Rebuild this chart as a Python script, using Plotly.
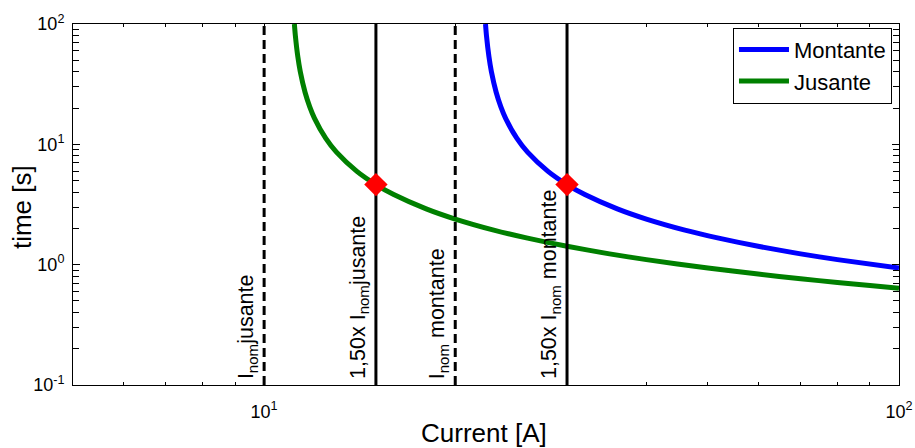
import numpy as np
import plotly.graph_objects as go

# Current [A] and trip time [s]
jusante_I = [11.16, 11.2, 11.3, 11.4, 11.6, 11.8, 12.0, 12.5, 13.0, 14.0, 15.0, 16.0, 18.0, 20.0,
             23.0, 26.0, 30.0, 35.0, 40.0, 50.0, 60.0, 70.0, 80.0, 90.0, 100.0]
jusante_t = [100.0, 79.9, 53.5, 40.3, 27.1, 20.5, 16.54, 11.25, 8.61, 5.96, 4.63, 3.83, 2.91, 2.394,
             1.938, 1.660, 1.421, 1.230, 1.101, 0.937, 0.835, 0.764, 0.711, 0.671, 0.638]

montante_I = [22.32, 22.4, 22.6, 22.8, 23.2, 23.6, 24.0, 25.0, 26.0, 28.0, 30.0, 32.0, 36.0, 40.0,
              46.0, 52.0, 60.0, 70.0, 80.0, 100.0]
montante_t = [100.0, 79.9, 53.5, 40.3, 27.1, 20.5, 16.54, 11.25, 8.61, 5.96, 4.63, 3.83, 2.91, 2.394,
              1.938, 1.660, 1.421, 1.230, 1.101, 0.937]

inom_jusante = 10
inom_montante = 20
pickup_factor = 1.5
pickup_time = [4.63, 4.63]

x_ticks = [10, 100]
x_ticktext = ["10<sup>1</sup>", "10<sup>2</sup>"]
y_ticks = [0.1, 1, 10, 100]
y_ticktext = ["10<sup>-1</sup>", "10<sup>0</sup>", "10<sup>1</sup>", "10<sup>2</sup>"]
x_minor = [6, 7, 8, 9, 20, 30, 40, 50, 60, 70, 80, 90]
y_minor = [0.2, 0.3, 0.4, 0.5, 0.6, 0.7, 0.8, 0.9, 2, 3, 4, 5, 6, 7, 8, 9, 20, 30, 40, 50, 60, 70, 80, 90]

y_span = [0.1, 100]

FONT = "Liberation Sans, Arial, sans-serif"

fig = go.Figure()

fig.add_trace(go.Scatter(x=montante_I, y=montante_t, mode="lines", name="Montante",
                         line=dict(color="#0000FF", width=5, shape="spline", smoothing=0.6)))
fig.add_trace(go.Scatter(x=jusante_I, y=jusante_t, mode="lines", name="Jusante",
                         line=dict(color="#008000", width=5, shape="spline", smoothing=0.6)))

# vertical reference lines
for val in [inom_jusante, inom_montante]:
    fig.add_trace(go.Scatter(x=[val, val], y=y_span, mode="lines", showlegend=False,
                             line=dict(color="black", width=3, dash="9px,5px"), hoverinfo="skip"))
for val in [inom_jusante * pickup_factor, inom_montante * pickup_factor]:
    fig.add_trace(go.Scatter(x=[val, val], y=y_span, mode="lines", showlegend=False,
                             line=dict(color="black", width=3), hoverinfo="skip"))

fig.add_trace(go.Scatter(x=[inom_jusante * pickup_factor, inom_montante * pickup_factor], y=pickup_time,
                         mode="markers", showlegend=False,
                         marker=dict(symbol="diamond", size=18, color="#FF0000", line=dict(width=0))))

labels = [
    (inom_jusante, "I<sub>nom</sub>jusante"),
    (inom_jusante * pickup_factor, "1,50x I<sub>nom</sub>jusante"),
    (inom_montante, "I<sub>nom</sub> montante"),
    (inom_montante * pickup_factor, "1,50x I<sub>nom</sub> montante"),
]
for val, txt in labels:
    fig.add_annotation(x=np.log10(val), y=0, xref="x", yref="paper", text=txt, textangle=-90,
                       showarrow=False, xanchor="right", yanchor="bottom", xshift=-1, yshift=4,
                       font=dict(family=FONT, size=21.5, color="black"))

# axis titles
fig.add_annotation(x=0.497, y=-0.133, xref="paper", yref="paper", text="Current [A]", showarrow=False,
                   xanchor="center", yanchor="middle", font=dict(family=FONT, size=26, color="black"))
fig.add_annotation(x=-0.0617, y=0.493, xref="paper", yref="paper", text="time [s]", showarrow=False,
                   textangle=-90, xanchor="center", yanchor="middle",
                   font=dict(family=FONT, size=26, color="black"))

axis_common = dict(
    type="log", showline=True, linecolor="black", linewidth=1, mirror="ticks",
    ticks="inside", tickcolor="black", showgrid=False, zeroline=False, automargin=False,
    tickfont=dict(family=FONT, size=18, color="black"), ticklabeloverflow="allow",
)

fig.update_xaxes(**axis_common, range=[np.log10(5), 2], tickmode="array", tickvals=x_ticks,
                 ticktext=x_ticktext, ticklen=4, ticklabelstandoff=10,
                 minor=dict(tickmode="array", tickvals=x_minor, ticks="inside", ticklen=3, tickcolor="black", showgrid=False))
fig.update_yaxes(**axis_common, range=[-1, 2], tickmode="array", tickvals=y_ticks,
                 ticktext=y_ticktext, ticklen=7, ticklabelstandoff=4,
                 minor=dict(tickmode="array", tickvals=y_minor, ticks="inside", ticklen=6, tickcolor="black", showgrid=False))

fig.update_layout(
    width=915, height=448,
    margin=dict(l=73, r=16, t=24, b=63),
    paper_bgcolor="white", plot_bgcolor="white",
    font=dict(family=FONT, color="black"),
    legend=dict(x=0.9915, y=0.99, xanchor="right", yanchor="top", bgcolor="white",
                bordercolor="black", borderwidth=1, font=dict(family=FONT, size=22, color="black"),
                tracegroupgap=0, itemwidth=50),
    showlegend=True,
)

fig.write_html("out.html", config={"displayModeBar": False},
               post_script="document.body.style.margin='0px';document.body.style.padding='0px';")
